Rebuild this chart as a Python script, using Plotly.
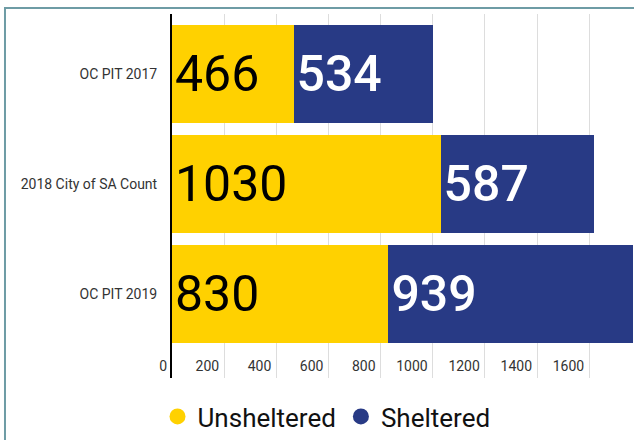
import plotly.graph_objects as go

categories = ["OC PIT 2017", "2018 City of SA Count", "OC PIT 2019"]
unsheltered = [466, 1030, 830]
sheltered = [534, 587, 939]
tick_vals = [0, 200, 400, 600, 800, 1000, 1200, 1400, 1600]

YELLOW = "#FFD100"
NAVY = "#283A85"

fig = go.Figure()
fig.add_trace(go.Bar(
    y=categories, x=unsheltered, name="Unsheltered", orientation="h",
    marker=dict(color=YELLOW, line=dict(width=0)),
    text=[str(v) for v in unsheltered], textposition="inside",
    insidetextanchor="start", showlegend=False,
    textfont=dict(family="Roboto", size=50, color="black"),
))
fig.add_trace(go.Bar(
    y=categories, x=sheltered, name="Sheltered", orientation="h",
    marker=dict(color=NAVY, line=dict(width=0)),
    text=[str(v) for v in sheltered], textposition="inside",
    insidetextanchor="start", showlegend=False,
    textfont=dict(family="Roboto", size=50, color="white", weight=500),
))
# legend entries with circle symbols
for name, col in [("Unsheltered", YELLOW), ("Sheltered", NAVY)]:
    fig.add_trace(go.Scatter(
        x=[None], y=[None], mode="markers", name=name,
        marker=dict(color=col, size=16, symbol="circle"),
        showlegend=True,
    ))

fig.update_layout(
    barmode="stack",
    bargap=0.11,
    width=634, height=440,
    margin=dict(l=172, r=0, t=14, b=62, autoexpand=False),
    plot_bgcolor="white", paper_bgcolor="white",
    font=dict(family="Roboto", color="#333333"),
    showlegend=True,
    hovermode=False,
    legend=dict(
        orientation="h", x=0.515, xanchor="center", xref="container",
        y=0.0, yanchor="bottom", yref="container",
        font=dict(family="Roboto", size=26, color="#111111"),
        itemwidth=30, traceorder="normal",
    ),
    shapes=[dict(
        type="rect", xref="paper", yref="paper",
        x0=-0.3615, x1=1.2, y0=-0.4, y1=1.0165,
        line=dict(color="#6E9CA5", width=2), fillcolor="rgba(0,0,0,0)",
        layer="above",
    )],
)

fig.update_xaxes(
    range=[0, 1772],
    tickvals=tick_vals,
    ticktext=[str(v) for v in tick_vals],
    ticklabelposition="outside left",
    ticklabelstandoff=-22,
    ticklabelshift=-5,
    tickfont=dict(family="Roboto", size=14, color="#333333"),
    showgrid=True, gridcolor="#DDDDDD", gridwidth=1,
    zeroline=False, showline=False, ticks="", automargin=False,
)
fig.update_yaxes(
    type="category",
    categoryorder="array", categoryarray=categories,
    range=[2.76, -0.545],
    tickfont=dict(family="Roboto", size=14, color="#333333"),
    ticklabelstandoff=10,
    showline=True, linecolor="black", linewidth=2,
    showgrid=False, zeroline=False, ticks="", automargin=False,
)

fig.write_html(
    "out.html",
    config={"displayModeBar": False},
    post_script="document.documentElement.style.margin='0';document.body.style.margin='0';document.body.style.overflow='hidden';",
)
